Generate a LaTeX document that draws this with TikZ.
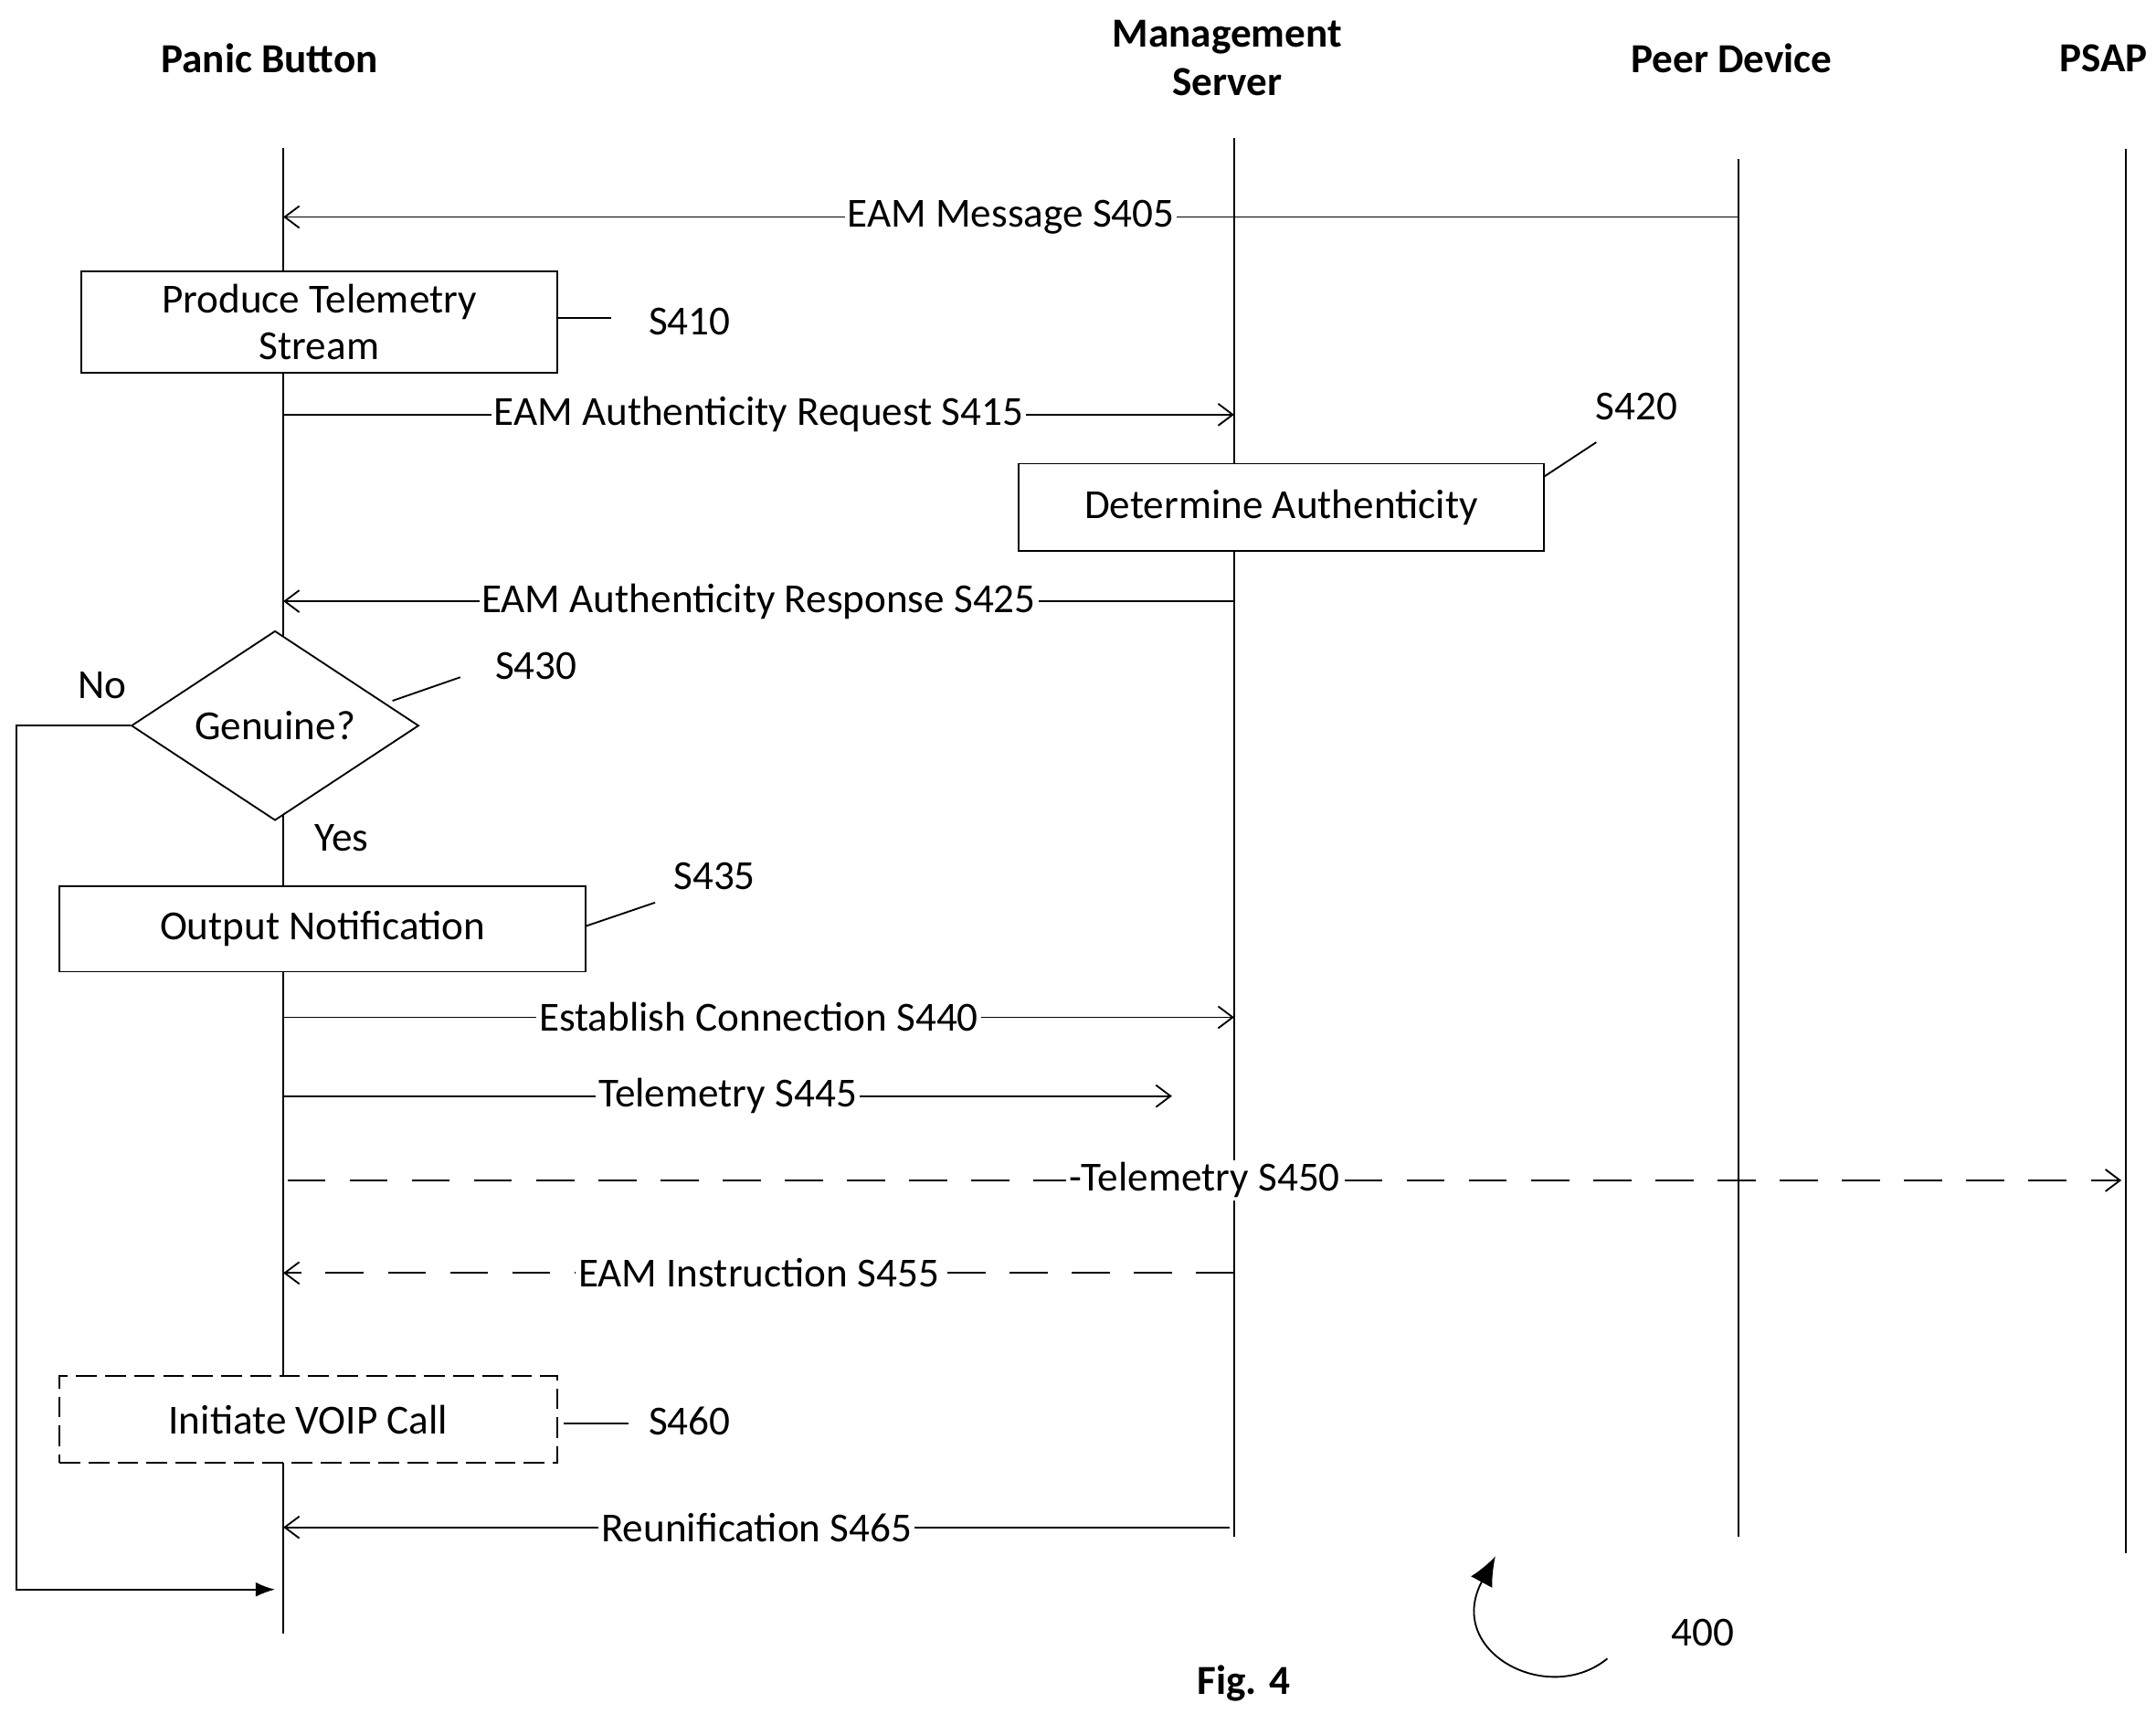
\documentclass[tikz,border=0pt]{standalone}
\usepackage{fontspec}
\setmainfont{Carlito}
\usetikzlibrary{arrows.meta,shapes.geometric}
\begin{document}
\begin{tikzpicture}[x=0.02cm,y=-0.02cm,
  lbl/.style={fill=white,inner sep=1pt,font=\fontsize{17}{19}\selectfont},
  txt/.style={font=\fontsize{17}{19}\selectfont},
  hdr/.style={font=\bfseries\fontsize{17}{20}\selectfont,align=center},
  msg/.style={line width=0.7pt,-{Straight Barb[length=6pt,width=9pt]}},
  dmsg/.style={msg,dash pattern=on 0.55cm off 0.35cm},
  box/.style={draw,fill=white,line width=0.7pt,txt,align=center,minimum height=1.3cm},
  ln/.style={line width=0.7pt}]
\useasboundingbox (0,0) rectangle (1560,1240);
% headers
\node[hdr] (hpb) at (195,42) {Panic Button};
\node[hdr] (hms) at (888,42) {Management\\Server};
\node[hdr] (hpd) at (1253,42) {Peer Device};
\node[hdr] (hps) at (1522,42) {PSAP};
% lifelines
\coordinate (pbT) at (205,107); \coordinate (pbB) at (205,1182);
\coordinate (msT) at (893,100); \coordinate (msB) at (893,1112);
\coordinate (pdT) at (1258,115); \coordinate (pdB) at (1258,1112);
\coordinate (psT) at (1538,108); \coordinate (psB) at (1538,1124);
\foreach \a/\b in {pbT/pbB,msT/msB,pdT/pdB,psT/psB} \draw[ln] (\a) -- (\b);
% S405
\coordinate (a1) at (1258,157); \coordinate (a2) at (205,157);
\draw[msg] (a1) -- (a2) node[lbl,pos=0.5] {EAM Message S405};
% S410
\node[box,minimum width=6.88cm,minimum height=1.46cm] (b410) at (231,233) {Produce Telemetry\\Stream};
\coordinate (t410) at (442,230);
\draw[ln] (b410.east|-t410) -- (t410);
\node[txt] (s410) at (499,233) {S410};
% S415
\coordinate (a3) at (205,300); \coordinate (a4) at (893,300);
\draw[msg] (a3) -- (a4) node[lbl,pos=0.5] {EAM Authenticity Request S415};
% S420
\node[box,minimum width=7.6cm,minimum height=1.26cm] (b420) at (927,367) {Determine Authenticity};
\coordinate (t420) at (1155,320);
\draw[ln] (1117,345) -- (t420);
\node[txt] (s420) at (1184,294) {S420};
% S425
\coordinate (a5) at (893,435); \coordinate (a6) at (205,435);
\draw[msg] (a5) -- (a6) node[lbl,pos=0.5] {EAM Authenticity Response S425};
% S430
\node[diamond,draw,fill=white,ln,txt,minimum width=4.16cm,minimum height=2.72cm,inner sep=0pt] (d430) at (199,525) {Genuine?};
\coordinate (t430) at (333,490);
\draw[ln] (284,507) -- (t430);
\node[txt] (s430) at (388,482) {S430};
\node[txt] (no) at (74,496) {No};
\node[txt] (yes) at (247,606) {Yes};
\coordinate (r1) at (12,525); \coordinate (r2) at (12,1150); \coordinate (r3) at (199,1150);
\draw[ln,-{Latex[length=8pt,width=6pt]}] (d430.west) -- (r1) -- (r2) -- (r3);
% S435
\node[box,minimum width=7.62cm,minimum height=1.24cm] (b435) at (233.5,672) {Output Notification};
\coordinate (t435) at (474,653);
\draw[ln] (424,670) -- (t435);
\node[txt] (s435) at (517,634) {S435};
% S440
\coordinate (a7) at (205,736); \coordinate (a8) at (893,736);
\draw[msg] (a7) -- (a8) node[lbl,pos=0.5] {Establish Connection S440};
% S445
\coordinate (a9) at (205,793); \coordinate (a10) at (848,793);
\draw[msg] (a9) -- (a10) node[lbl,pos=0.5] {Telemetry S445};
% S450
\coordinate (a11) at (208,854); \coordinate (a12) at (1535,854);
\draw[dmsg] (a11) -- (a12) node[lbl,pos=0.5] {-Telemetry S450};
% S455
\coordinate (a13) at (893,921); \coordinate (a14) at (205,921);
\draw[dmsg] (a13) -- (a14) node[lbl,pos=0.5] {EAM Instruction S455};
% S460
\node[box,dash pattern=on 0.3cm off 0.12cm,minimum width=7.2cm,minimum height=1.26cm] (b460) at (223,1027) {Initiate VOIP Call};
\coordinate (t460) at (455,1030);
\draw[ln] (408,1030) -- (t460);
\node[txt] (s460) at (499,1028) {S460};
% S465
\coordinate (a15) at (890,1105); \coordinate (a16) at (205,1105);
\draw[msg] (a15) -- (a16) node[lbl,pos=0.5] {Reunification S465};
% 400
\coordinate (c1) at (1163,1200); \coordinate (c2) at (1082,1126);
\draw[ln,-{Latex[length=12pt,width=10pt]}] (c1) .. controls (1120,1235) and (1045,1195) .. (c2);
\node[txt] (n400) at (1232,1181) {400};
\node[hdr] (fig) at (900,1218) {Fig. 4};
\end{tikzpicture}
\end{document}
